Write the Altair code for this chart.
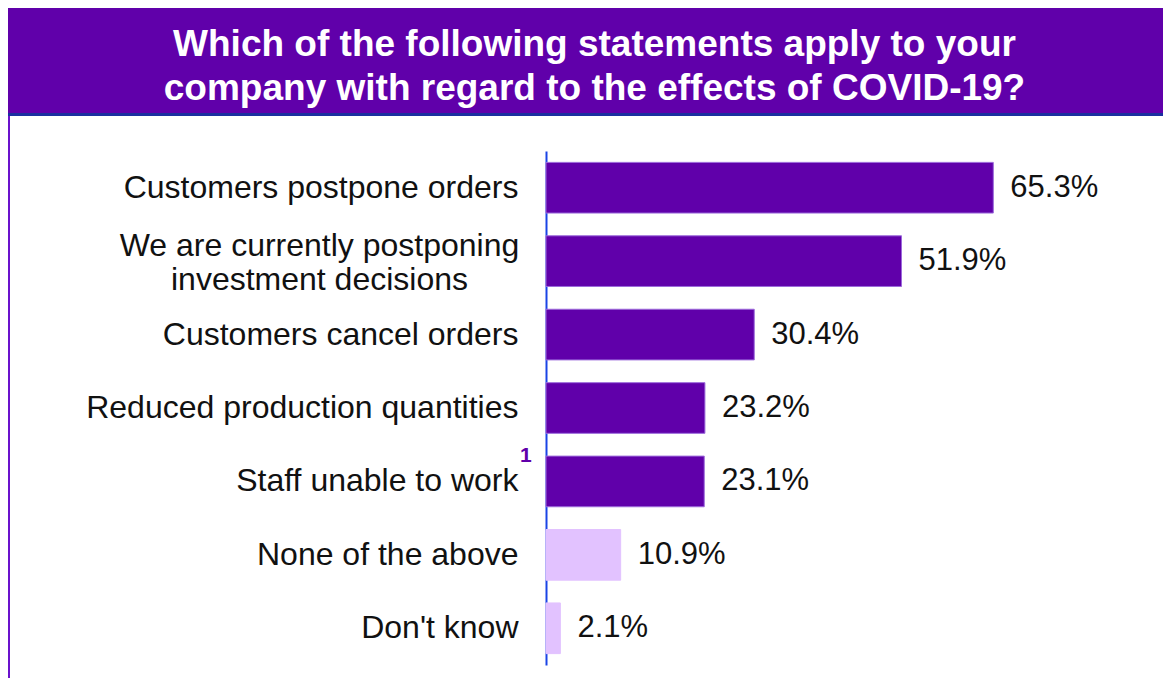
import altair as alt
import pandas as pd

# ---- data ----
categories = [
    "Customers postpone orders",
    "We are currently postponing\ninvestment decisions",
    "Customers cancel orders",
    "Reduced production quantities",
    "Staff unable to work",
    "None of the above",
    "Don't know",
]
values = [65.3, 51.9, 30.4, 23.2, 23.1, 10.9, 2.1]
kinds = ["effect", "effect", "effect", "effect", "effect", "other", "other"]
title_lines = [
    "Which of the following statements apply to your",
    "company with regard to the effects of COVID-19?",
]
footnote_category = "Staff unable to work"
footnote_mark = "1"

df = pd.DataFrame({"category": categories, "value": values, "kind": kinds})

PURPLE = "#6000AA"
LIGHT = "#E2C2FF"
FONT = "Liberation Sans"

W, H = 548, 514
PAD = {"left": 538, "top": 143, "right": 69, "bottom": 13}

one = alt.Data(values=[{"k": 1}])

banner = alt.Chart(one).mark_rect(color=PURPLE).encode(
    x=alt.value(-PAD["left"]), x2=alt.value(W + PAD["right"]),
    y=alt.value(-PAD["top"]), y2=alt.value(-38),
)
banner_line = alt.Chart(one).mark_rule(color="#1A2FA0", strokeWidth=3).encode(
    x=alt.value(-PAD["left"]), x2=alt.value(W + PAD["right"]),
    y=alt.value(-36.5),
)
left_border = alt.Chart(one).mark_rule(color="#6A12CC", strokeWidth=2).encode(
    x=alt.value(-PAD["left"] + 1), y=alt.value(-35), y2=alt.value(H + PAD["bottom"]),
)
title = alt.Chart(one).mark_text(
    font=FONT, fontSize=37, fontWeight="bold", color="white",
    align="center", baseline="alphabetic", lineHeight=44,
).encode(
    x=alt.value(48.5), y=alt.value(-95), text=alt.value(title_lines),
)

ysort = categories
base = alt.Chart(df)
multiline = "indexof(datum.value, '\\n') >= 0"

bars = base.mark_bar(strokeWidth=1).encode(
    x=alt.X("value:Q", scale=alt.Scale(domain=[0, 80]), axis=None),
    y=alt.Y(
        "category:N", sort=ysort, title=None,
        scale=alt.Scale(paddingInner=0.31, paddingOuter=0.155),
        axis=alt.Axis(
            labelExpr="split(datum.label, '\\n')",
            labelFont=FONT, labelFontSize=32, labelColor="#111111",
            labelLineHeight=34,
            labelAlign={"condition": {"test": multiline, "value": "center"}, "value": "right"},
            labelPadding={"condition": {"test": multiline, "value": 227}, "value": 28},
            labelOffset={"condition": {"test": multiline, "value": -15}, "value": 0},
            labelLimit=600,
            ticks=False, domainColor="#1A44E6", domainWidth=2, grid=False,
        ),
    ),
    color=alt.Color("kind:N", scale=alt.Scale(domain=["effect", "other"], range=[PURPLE, LIGHT]), legend=None),
    stroke=alt.Stroke("kind:N", scale=alt.Scale(domain=["effect", "other"], range=["#9C6ADB", LIGHT]), legend=None),
)

labels = base.transform_calculate(
    txt="format(datum.value, '.1f') + '%'"
).mark_text(
    font=FONT, fontSize=31, color="#111111", align="left", baseline="middle", dx=17,
).encode(
    x=alt.X("value:Q"), y=alt.Y("category:N", sort=ysort), text="txt:N",
)

footnote = base.transform_filter(
    alt.datum.category == footnote_category
).mark_text(
    font=FONT, fontSize=21, fontWeight="bold", color=PURPLE, align="left", baseline="middle", dy=-25,
).encode(
    x=alt.value(-26), y=alt.Y("category:N", sort=ysort), text=alt.value(footnote_mark),
)

chart = alt.layer(banner, banner_line, left_border, title, bars, labels, footnote).properties(
    width=W, height=H, padding=PAD, autosize=alt.AutoSizeParams(type="none"),
).configure_view(stroke=None)

chart.save("out.html", embed_options={"renderer": "svg", "actions": False})
